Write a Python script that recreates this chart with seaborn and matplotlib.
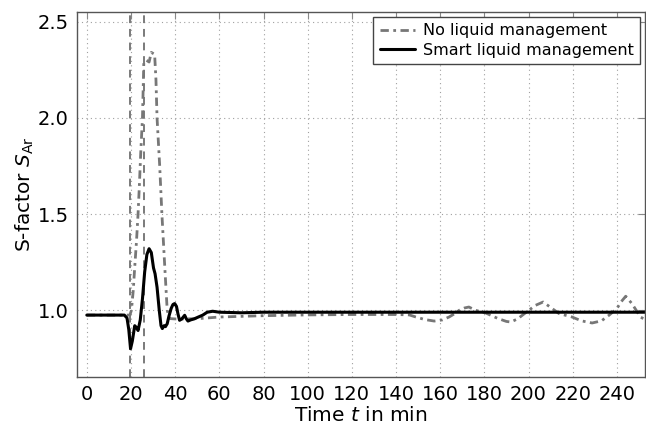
import numpy as np
import pandas as pd
import matplotlib
matplotlib.use("Agg")
import matplotlib.pyplot as plt
import seaborn as sns

# ---- data ----
t_smart = [0, 17, 18.2, 19.0, 19.8, 20.6, 21.7, 22.5, 23.2, 24.2, 25.2, 26.2, 27.2, 28.2,
           29.2, 30.2, 30.9, 31.8, 32.8, 33.6, 34.2, 35.0, 35.6, 36.4, 37.2, 38.2, 39.0,
           39.8, 40.6, 41.3, 42.0, 43.0, 44.3, 45.1, 45.8, 47.0, 48.5, 50.5, 52.5, 54.5,
           57, 60, 70, 80, 253]
s_smart = [0.975, 0.975, 0.96, 0.90, 0.80, 0.84, 0.92, 0.91, 0.895, 0.95, 1.06, 1.20, 1.29, 1.32,
           1.30, 1.22, 1.19, 1.12, 1.00, 0.92, 0.905, 0.92, 0.915, 0.93, 0.97, 1.01, 1.03,
           1.035, 1.02, 0.98, 0.948, 0.955, 0.974, 0.955, 0.944, 0.95, 0.955, 0.965, 0.975, 0.99,
           0.995, 0.99, 0.987, 0.99, 0.99]

t_none = [0, 18.5, 19.5, 20.2, 21.0, 21.7, 22.5, 23.2, 23.8, 24.4, 25.2, 25.8, 26.9, 28.2,
          29.2, 30.7, 31.3, 31.8, 33.0, 34.0, 35.3, 36.4, 37.5, 40, 45, 51, 60, 80, 100,
          120, 140, 146, 149, 153, 157.3, 161, 164, 166.5, 168.6, 171, 173, 176, 180.6,
          186, 190, 192, 195, 199, 203, 206.6, 210, 213.8, 219.7, 224, 228.8, 233, 236.4,
          240, 242, 244, 246.8, 250.7, 253]
s_none = [0.975, 0.975, 0.975, 1.0, 1.10, 1.225, 1.36, 1.5, 1.65, 1.815, 2.0, 2.285, 2.30, 2.29,
          2.34, 2.33, 2.20, 2.0, 1.75, 1.5, 1.225, 1.0, 0.957, 0.955, 0.955, 0.957, 0.965, 0.972, 0.976,
          0.978, 0.978, 0.976, 0.965, 0.952, 0.944, 0.95, 0.965, 0.982, 1.0, 1.012, 1.017, 1.0, 0.986,
          0.958, 0.942, 0.939, 0.955, 0.99, 1.025, 1.043, 1.015, 0.983, 0.965, 0.945, 0.934, 0.945, 0.974,
          1.009, 1.045, 1.073, 1.035, 0.965, 0.95]

events = [19.5, 25.7]

series_names = ["No liquid management", "Smart liquid management"]
x_ticks = list(range(0, 241, 20))
y_ticks = [1.0, 1.5, 2.0, 2.5]

df = pd.concat([
    pd.DataFrame({"t": t_none, "S": s_none, "series": series_names[0]}),
    pd.DataFrame({"t": t_smart, "S": s_smart, "series": series_names[1]}),
])

sns.set_style("white")
plt.rcParams["font.family"] = ["DejaVu Sans"]
plt.rcParams["mathtext.fontset"] = "dejavusans"
plt.rcParams["text.color"] = "black"
plt.rcParams["axes.labelcolor"] = "black"
plt.rcParams["xtick.labelcolor"] = "black"
plt.rcParams["ytick.labelcolor"] = "black"

fig = plt.figure(figsize=(6.46, 4.28), dpi=100)
ax = fig.add_axes([0.119, 0.119, 0.879, 0.853])

for ev in events:
    ax.axvline(ev, color="#7a7a7a", lw=1.4, ls=(0, (4, 3)), zorder=1)

gray = "#777777"
sns.lineplot(data=df[df.series == series_names[0]], x="t", y="S", ax=ax,
             color=gray, lw=2.0, label=series_names[0], sort=False, estimator=None)
ax.lines[-1].set_linestyle((0, (3, 1.6, 1, 1.6)))
sns.lineplot(data=df[df.series == series_names[1]], x="t", y="S", ax=ax,
             color="black", lw=2.2, label=series_names[1], sort=False, estimator=None)

ax.set_xlim(-4.5, 252.6)
ax.set_ylim(0.653, 2.55)
ax.set_xticks(x_ticks)
ax.set_yticks(y_ticks)
ax.set_yticklabels([f"{v:.1f}" for v in y_ticks])
ax.grid(True, ls=(0, (1, 3)), color="#a0a0a0", lw=0.8)
ax.tick_params(direction="in", length=5, width=0.8, color="#888888",
               top=True, right=True, labelsize=14, pad=6)
for sp in ax.spines.values():
    sp.set_color("#555555")
    sp.set_linewidth(1.0)

ax.set_xlabel("Time $t$ in min", fontsize=14.5, labelpad=1)
ax.set_ylabel("S-factor $S_{\\mathrm{Ar}}$", fontsize=14.5, labelpad=1)

leg = ax.legend(loc="upper right", fontsize=11.5, frameon=True, fancybox=False,
                edgecolor="#444444", framealpha=1, handlelength=2.2,
                borderaxespad=0.3, handletextpad=0.5, borderpad=0.4, labelspacing=0.3)
leg.get_frame().set_linewidth(1.0)
for txt in leg.get_texts():
    txt.set_color("black")

fig.savefig("out.png", dpi=100)
